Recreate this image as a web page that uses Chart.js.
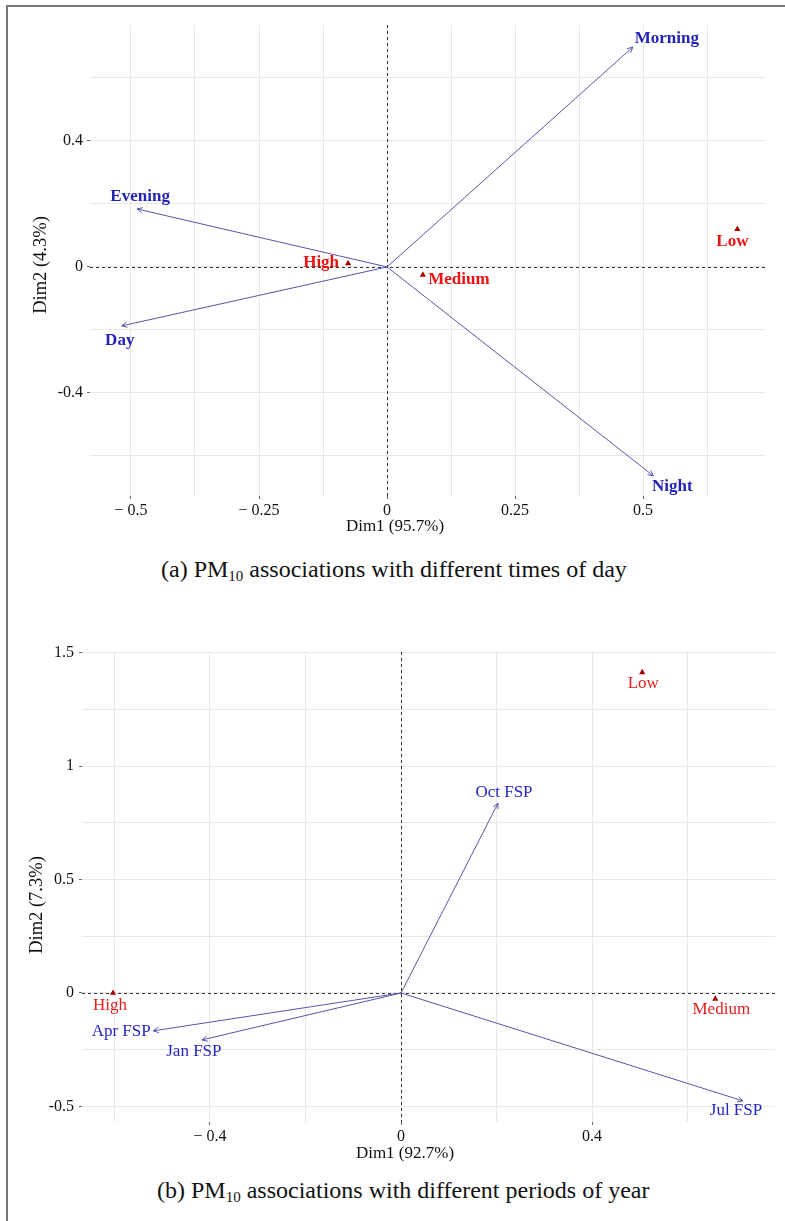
<!DOCTYPE html>
<html>
<head>
<meta charset="utf-8">
<script src="https://cdn.jsdelivr.net/npm/chart.js@4.4.1/dist/chart.umd.min.js"></script>
<style>
  body { margin: 0; background: #fff; width: 785px; height: 1221px; position: relative; overflow: hidden; font-family: "Liberation Serif", "Times New Roman", serif; }
  .frame { position: absolute; left: 6px; top: 5px; width: 779px; height: 1216px; border-left: 2px solid #777; border-top: 2px solid #777; }
  canvas { position: absolute; left: 0; }
  .cap { position: absolute; white-space: nowrap; font-size: 24px; line-height: 24px; color: #111; }
  .cap sub { font-size: 15px; vertical-align: -4px; line-height: 0; }
  .xt, .yt { position: absolute; width: 300px; height: 20px; line-height: 20px; text-align: center; white-space: nowrap; color: #111; }
  .xt { font-size: 17px; }
  .yt { font-size: 18.5px; transform: rotate(-90deg); }
</style>
</head>
<body>
<div class="frame"></div>
<canvas id="chartA" width="785" height="545" style="top:0"></canvas>
<div class="xt" style="left:245px; top:516px">Dim1 (95.7%)</div>
<div class="yt" style="left:-110px; top:255px">Dim2 (4.3%)</div>
<div class="cap" style="left:161px; top:557px">(a) PM<sub>10</sub> associations with different times of day</div>
<canvas id="chartB" width="785" height="570" style="top:600px"></canvas>
<div class="xt" style="left:255px; top:1143px">Dim1 (92.7%)</div>
<div class="yt" style="left:-114px; top:895px">Dim2 (7.3%)</div>
<div class="cap" style="left:157px; top:1178px">(b) PM<sub>10</sub> associations with different periods of year</div>

<script>
// (a) times of day
const timeVars = ["Morning", "Evening", "Day", "Night"]
const timeVarX = [0.480, -0.488, -0.518, 0.520]
const timeVarY = [0.698, 0.184, -0.187, -0.663]
const levelsA = ["High", "Medium", "Low"]
const levelAX = [-0.076, 0.070, 0.684]
const levelAY = [0.011, -0.025, 0.120]
const xTicksA = [-0.5, -0.25, 0, 0.25, 0.5]
const xTickLabelsA = ["\u2212 0.5", "\u2212 0.25", "0", "0.25", "0.5"]
const xGridA = [-0.5, -0.375, -0.25, -0.125, 0, 0.125, 0.25, 0.375, 0.5, 0.625]
const yTicksA = [-0.4, 0, 0.4]
const yTickLabelsA = ["-0.4", "0", "0.4"]
const yGridA = [-0.6, -0.4, -0.2, 0, 0.2, 0.4, 0.6]

// (b) periods of year
const periodVars = ["Oct FSP", "Apr FSP", "Jan FSP", "Jul FSP"]
const periodVarX = [0.203, -0.519, -0.417, 0.716]
const periodVarY = [0.837, -0.167, -0.207, -0.476]
const levelsB = ["High", "Medium", "Low"]
const levelBX = [-0.603, 0.658, 0.505]
const levelBY = [0.000, -0.026, 1.414]
const xTicksB = [-0.4, 0, 0.4]
const xTickLabelsB = ["\u2212 0.4", "0", "0.4"]
const xGridB = [-0.6, -0.4, -0.2, 0, 0.2, 0.4, 0.6]
const yTicksB = [-0.5, 0, 0.5, 1, 1.5]
const yTickLabelsB = ["-0.5", "0", "0.5", "1", "1.5"]
const yGridB = [-0.5, -0.25, 0, 0.25, 0.5, 0.75, 1, 1.25, 1.5]

// label nudges in pixels (style, not data)
const varDxA = [34, 3, -2, 19], varDyA = [-8, -12, 15, 11]
const lvlDxA = [-27, 36, -5], lvlDyA = [-1, 5, 12]
const varDxB = [6, -32, -8, -7], varDyB = [-11, 1, 12, 10]
const lvlDxB = [-3, 6, 1], lvlDyB = [13, 11, 11]

const SERIF = '"Liberation Serif", "Times New Roman", serif'
const ARROW = "#5656a8"

const zeroLines = {
  id: "zeroLines",
  beforeDatasetsDraw(chart) {
    const { ctx, chartArea: a, scales } = chart
    const x0 = Math.round(scales.x.getPixelForValue(0)) + 0.5
    const y0 = Math.round(scales.y.getPixelForValue(0)) + 0.5
    ctx.save()
    ctx.strokeStyle = "#333"
    ctx.lineWidth = 1
    ctx.setLineDash([3, 3])
    ctx.beginPath()
    ctx.moveTo(a.left, y0); ctx.lineTo(a.right, y0)
    ctx.moveTo(x0, a.top); ctx.lineTo(x0, a.bottom)
    ctx.stroke()
    ctx.restore()
  },
}

const arrowsAndLabels = {
  id: "arrowsAndLabels",
  afterDatasetsDraw(chart) {
    const ctx = chart.ctx
    chart.data.datasets.forEach((ds, i) => {
      const pts = chart.getDatasetMeta(i).data
      ctx.save()
      if (ds.arrow) {
        const o = pts[0], t = pts[1]
        const ang = Math.atan2(t.y - o.y, t.x - o.x)
        ctx.strokeStyle = ds.borderColor
        ctx.lineWidth = 1
        ctx.beginPath()
        for (const s of [-1, 1]) {
          ctx.moveTo(t.x, t.y)
          ctx.lineTo(t.x - 6 * Math.cos(ang + s * 0.45), t.y - 6 * Math.sin(ang + s * 0.45))
        }
        ctx.stroke()
      }
      ctx.font = ds.textFont
      ctx.fillStyle = ds.textColor
      ctx.textAlign = "center"
      ctx.textBaseline = "middle"
      ds.names.forEach((n, k) => {
        const p = ds.arrow ? pts[1] : pts[k]
        ctx.fillText(n, p.x + ds.dx[k], p.y + ds.dy[k])
      })
      ctx.restore()
    })
  },
}

function axis(min, max, grid, ticks, labels, fit, tickPad) {
  return {
    type: "linear",
    min: min,
    max: max,
    afterBuildTicks: (s) => { s.ticks = grid.map((v) => ({ value: v })) },
    afterFit: fit,
    border: { display: false },
    grid: {
      color: "#e8e8e8",
      lineWidth: 1,
      drawTicks: true,
      tickLength: 3,
      tickColor: (c) => (ticks.some((t) => Math.abs(t - c.tick.value) < 1e-9) ? "#666" : "rgba(0,0,0,0)"),
    },
    ticks: {
      autoSkip: false,
      maxRotation: 0,
      padding: tickPad,
      color: "#111",
      font: { family: SERIF, size: 16 },
      callback: (v) => {
        const k = ticks.findIndex((t) => Math.abs(t - v) < 1e-9)
        return k < 0 ? "" : labels[k]
      },
    },
    title: { display: false },
  }
}

function makeChart(id, o) {
  const datasets = []
  o.vars.forEach((v, k) => {
    datasets.push({
      data: [{ x: 0, y: 0 }, { x: o.vx[k], y: o.vy[k] }],
      showLine: true,
      borderColor: ARROW,
      borderWidth: 1,
      pointRadius: 0,
      arrow: true,
      names: [v],
      dx: [o.vdx[k]],
      dy: [o.vdy[k]],
      textFont: o.varFont,
      textColor: o.varColor,
    })
  })
  datasets.push({
    data: o.lx.map((x, k) => ({ x: x, y: o.ly[k] })),
    pointStyle: "triangle",
    pointRadius: 3.6,
    backgroundColor: "#a80000",
    borderColor: "#a80000",
    borderWidth: 0,
    names: o.levels,
    dx: o.ldx,
    dy: o.ldy,
    textFont: o.lvlFont,
    textColor: o.lvlColor,
  })
  return new Chart(document.getElementById(id), {
    type: "scatter",
    data: { datasets: datasets },
    options: {
      responsive: false,
      animation: false,
      layout: { padding: o.padding },
      plugins: { legend: { display: false }, tooltip: { enabled: false } },
      scales: { x: o.x, y: o.y },
    },
    plugins: [zeroLines, arrowsAndLabels],
  })
}

makeChart("chartA", {
  vars: timeVars, vx: timeVarX, vy: timeVarY, vdx: varDxA, vdy: varDyA,
  levels: levelsA, lx: levelAX, ly: levelAY, ldx: lvlDxA, ldy: lvlDyA,
  varFont: "bold 17px " + SERIF, varColor: "#2323b8",
  lvlFont: "bold 17px " + SERIF, lvlColor: "#ee1111",
  padding: { left: 30, top: 25, right: 20, bottom: 9 },
  x: axis(-0.58, 0.738, xGridA, xTicksA, xTickLabelsA, (s) => { s.height = 40 }, 2),
  y: axis(-0.727, 0.768, yGridA, yTicksA, yTickLabelsA, (s) => { s.width = 60 }, 4),
})

makeChart("chartB", {
  vars: periodVars, vx: periodVarX, vy: periodVarY, vdx: varDxB, vdy: varDyB,
  levels: levelsB, lx: levelBX, ly: levelBY, ldx: lvlDxB, ldy: lvlDyB,
  varFont: "17px " + SERIF, varColor: "#2626c4",
  lvlFont: "17px " + SERIF, lvlColor: "#e81c1c",
  padding: { left: 26, top: 52, right: 10, bottom: 7 },
  x: axis(-0.668, 0.783, xGridB, xTicksB, xTickLabelsB, (s) => { s.height = 41 }, 2),
  y: axis(-0.569, 1.504, yGridB, yTicksB, yTickLabelsB, (s) => { s.width = 56 }, 5),
})
</script>
</body>
</html>
